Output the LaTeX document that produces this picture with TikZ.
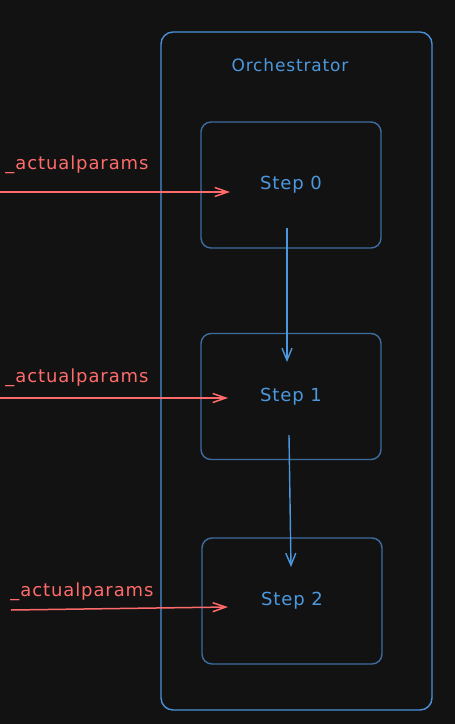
\documentclass[tikz,border=0pt]{standalone}
\usepackage{fontspec}
\setmainfont{DejaVu Sans}[LetterSpace=5]
\usetikzlibrary{arrows.meta, positioning}

\definecolor{canvas}{HTML}{121212}
\definecolor{orchblue}{RGB}{74,144,217}
\definecolor{boxblue}{RGB}{61,108,160}
\definecolor{textblue}{RGB}{76,152,222}
\definecolor{paramred}{RGB}{255,107,107}

\begin{document}
\begin{tikzpicture}[x=1pt, y=-1pt,
        frame/.style={draw=orchblue, line width=1.4pt, rounded corners=12pt, minimum width=271pt, minimum height=678pt},
        stepbox/.style={draw=boxblue, line width=1.4pt, rounded corners=10pt, minimum width=180pt, minimum height=126pt, text=textblue},
        flow/.style={draw=textblue, line width=1.4pt, -{Straight Barb[length=12pt, width=10pt]}},
        param/.style={draw=paramred, line width=1.5pt, -{Straight Barb[length=13pt, width=9pt]}},
        every node/.style={inner sep=0pt, font=\fontsize{18}{21}\selectfont}
    ]

    % Canvas
    \fill[canvas] (0,0) rectangle (455,724);
    \useasboundingbox (0,0) rectangle (455,724);

    % Orchestrator
    \node[frame] (orch) at (296.5,371) {};
    \node[text=textblue, font=\fontsize{17}{20}\selectfont] (orchlabel) at (290,65) {Orchestrator};

    % Steps
    \node[stepbox] (step0) at (291,185) {Step 0};
    \node[stepbox] (step1) at (291,396.5) {Step 1};
    \node[stepbox] (step2) at (292,601) {Step 2};

    % Flow between steps
    \coordinate (out0) at (287,228);
    \coordinate (to1) at (287,362);
    \coordinate (out1) at (289,435);
    \coordinate (to2) at (291,567);
    \draw[flow] (out0) -- (to1);
    \draw[flow] (out1) -- (to2);

    % Params into each step
    \foreach \i/\sx/\sy/\ex/\ey/\lx/\ly in {0/0/192/230/192/77/165, 1/0/398/228/398/77/378, 2/11/610/228/607/82/592} {
        \coordinate (in\i) at (\sx,\sy);
        \coordinate (at\i) at (\ex,\ey);
        \draw[param] (in\i) -- (at\i);
        \node[text=paramred] (params\i) at (\lx,\ly) {\_actualparams};
    }

\end{tikzpicture}
\end{document}
